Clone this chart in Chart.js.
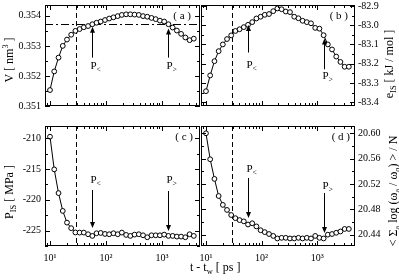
<!DOCTYPE html>
<html>
<head>
<meta charset="utf-8">
<script src="https://cdn.jsdelivr.net/npm/chart.js@4.4.0/dist/chart.umd.min.js"></script>
<style>
    html, body { margin: 0; padding: 0; background: #fff; }
    #wrap { position: relative; width: 399px; height: 280px; }
    #wrap canvas { position: absolute; left: 0; top: 0; }
</style>
</head>
<body>
<div id="wrap">
    <canvas id="pa" width="399" height="280"></canvas>
    <canvas id="pb" width="399" height="280"></canvas>
    <canvas id="pc" width="399" height="280"></canvas>
    <canvas id="pd" width="399" height="280"></canvas>
</div>
<script>
(function () {
    'use strict';

    // t - t_w [ps]
    var times = [10, 11.9, 14.2, 16.9, 20.1, 23.9, 28.4, 33.8, 40.2, 47.9, 57.0, 67.8,
        80.6, 96.0, 114, 136, 162, 192, 229, 272, 324, 386, 459, 546, 650, 773, 920,
        1095, 1303, 1551, 1845, 2196, 2613, 3110, 3701];

    // (a) V [nm^3]
    var volume = [0.35153, 0.35215, 0.35261, 0.35300, 0.35321, 0.35337, 0.35350, 0.35356,
        0.35362, 0.35366, 0.35372, 0.35377, 0.35381, 0.35386, 0.35391, 0.35395, 0.35399,
        0.35403, 0.35405, 0.35405, 0.35404, 0.35403, 0.35399, 0.35397, 0.35393, 0.35389,
        0.35384, 0.35381, 0.35372, 0.35361, 0.35351, 0.35340, 0.35328, 0.35319, 0.35324];

    // (b) e_IS [kJ/mol]
    var energy = [-83.343, -83.261, -83.187, -83.135, -83.100, -83.072, -83.053, -83.030,
        -83.021, -83.010, -82.998, -82.984, -82.965, -82.956, -82.946, -82.942, -82.927,
        -82.913, -82.917, -82.929, -82.932, -82.956, -82.964, -82.977, -82.984, -82.990,
        -83.014, -83.018, -83.052, -83.100, -83.126, -83.163, -83.191, -83.216, -83.216];

    // (c) P_IS [MPa]
    var pressure = [-209.74, -215.05, -218.9, -221.8, -223.7, -224.6, -225.3, -225.32,
        -225.32, -225.59, -225.86, -225.43, -225.38, -225.54, -225.59, -225.43, -225.59,
        -225.32, -225.70, -225.86, -225.65, -225.59, -225.76, -226.08, -225.76, -225.76,
        -225.76, -225.65, -225.86, -225.86, -225.97, -225.97, -226.08, -225.59, -225.86];

    // (d) < sum_a log(w_a / w_o) > / N
    var logOmega = [20.600, 20.559, 20.528, 20.501, 20.487, 20.479, 20.471, 20.466, 20.463,
        20.461, 20.456, 20.458, 20.453, 20.447, 20.444, 20.441, 20.438, 20.434, 20.435,
        20.435, 20.434, 20.434, 20.435, 20.434, 20.435, 20.434, 20.438, 20.435, 20.434,
        20.440, 20.441, 20.443, 20.445, 20.449, 20.449];

    // 刻度
    var xMajor = [10, 100, 1000];
    var xMajorLabels = ['10\u00b9', '10\u00b2', '10\u00b3'];
    var xMinor = [9, 20, 30, 40, 50, 60, 70, 80, 90, 200, 300, 400, 500, 600, 700, 800, 900,
        2000, 3000, 4000];

    var volTicks = [0.351, 0.352, 0.353, 0.354];
    var volMinor = [0.3515, 0.3525, 0.3535];
    var energyTicks = [-83.4, -83.3, -83.2, -83.1, -83.0, -82.9];
    var energyMinor = [-83.35, -83.25, -83.15, -83.05, -82.95];
    var pressureTicks = [-225, -220, -215, -210];
    var pressureMinor = [-227.5, -222.5, -217.5, -212.5];
    var omegaTicks = [20.44, 20.48, 20.52, 20.56, 20.60];
    var omegaMinor = [20.46, 20.50, 20.54, 20.58];

    var X_MIN = 8.14, X_MAX = 4775;
    var T_CUT = 29;        // 竖直虚线
    var V_PLATEAU = 0.35373; // (a) 中的点划线

    var SERIF = "'Liberation Serif', 'Times New Roman', serif";
    Chart.defaults.font.family = SERIF;
    Chart.defaults.color = '#000';

    function font(size) { return size + 'px ' + SERIF; }

    // 带上下标的文字：parts = [[text, 'sub'|'sup'|undefined], ...]
    function drawRich(ctx, parts, x, y, size, rotate, align) {
        ctx.save();
        ctx.translate(x, y);
        if (rotate) ctx.rotate(-Math.PI / 2);
        ctx.textBaseline = 'middle';
        ctx.textAlign = 'left';
        var w = 0, i;
        for (i = 0; i < parts.length; i++) {
            ctx.font = font(parts[i][1] ? size * 0.7 : size);
            w += ctx.measureText(parts[i][0]).width;
        }
        var cx = align === 'left' ? 0 : -w / 2;
        for (i = 0; i < parts.length; i++) {
            var p = parts[i];
            var s = p[1] ? size * 0.7 : size;
            var dy = p[1] === 'sub' ? size * 0.32 : (p[1] === 'sup' ? -size * 0.38 : 0);
            ctx.font = font(s);
            ctx.fillText(p[0], cx, dy);
            cx += ctx.measureText(p[0]).width;
        }
        ctx.restore();
    }

    function drawArrow(ctx, x, y0, y1) {
        var dir = y1 > y0 ? 1 : -1;
        ctx.beginPath();
        ctx.moveTo(x, y0);
        ctx.lineTo(x, y1 - dir * 5);
        ctx.stroke();
        ctx.beginPath();
        ctx.moveTo(x, y1);
        ctx.lineTo(x - 2.5, y1 - dir * 6);
        ctx.lineTo(x + 2.5, y1 - dir * 6);
        ctx.closePath();
        ctx.fill();
    }

    function decorPlugin(p) {
        return {
            id: 'decor',
            beforeDatasetsDraw: function (chart) {
                var ctx = chart.ctx, a = chart.chartArea;
                var xs = chart.scales.x, ys = chart.scales.y;
                ctx.save();
                ctx.strokeStyle = '#000';
                ctx.lineWidth = 1;
                ctx.setLineDash([5, 3]);
                var vx = Math.round(xs.getPixelForValue(T_CUT)) + 0.5;
                ctx.beginPath();
                ctx.moveTo(vx, a.top);
                ctx.lineTo(vx, a.bottom);
                ctx.stroke();
                if (p.hLine != null) {
                    ctx.setLineDash([8, 3, 2, 3]);
                    var hy = Math.round(ys.getPixelForValue(p.hLine)) + 0.5;
                    ctx.beginPath();
                    ctx.moveTo(a.left, hy);
                    ctx.lineTo(a.right, hy);
                    ctx.stroke();
                }
                ctx.restore();
            },
            afterDatasetsDraw: function (chart) {
                var ctx = chart.ctx, a = chart.chartArea;
                var xs = chart.scales.x, ys = chart.scales.y;
                ctx.save();
                ctx.strokeStyle = '#000';
                ctx.fillStyle = '#000';
                ctx.lineWidth = 1;

                // 边框
                ctx.strokeRect(a.left + 0.5, a.top + 0.5, a.right - a.left - 1, a.bottom - a.top - 1);

                // 向内的刻度线（四边）
                ctx.beginPath();
                function xTick(v, len) {
                    var px = Math.round(xs.getPixelForValue(v)) + 0.5;
                    ctx.moveTo(px, a.top); ctx.lineTo(px, a.top + len);
                    ctx.moveTo(px, a.bottom); ctx.lineTo(px, a.bottom - len);
                }
                function yTick(v, len) {
                    var py = Math.round(ys.getPixelForValue(v)) + 0.5;
                    ctx.moveTo(a.left, py); ctx.lineTo(a.left + len, py);
                    ctx.moveTo(a.right, py); ctx.lineTo(a.right - len, py);
                }
                xMajor.forEach(function (v) { xTick(v, 5); });
                xMinor.forEach(function (v) { xTick(v, 3); });
                p.yTicks.forEach(function (v) { yTick(v, 5); });
                p.yMinor.forEach(function (v) { yTick(v, 3); });
                ctx.stroke();

                // 箭头 P< / P>
                p.arrows.forEach(function (ar) {
                    var ax = Math.round(xs.getPixelForValue(ar.t)) + 0.5;
                    drawArrow(ctx, ax, ys.getPixelForValue(ar.from), ys.getPixelForValue(ar.to));
                    drawRich(ctx, [['P'], [ar.sub, 'sub']], ax - 2, ys.getPixelForValue(ar.labelY), 11, false, 'left');
                });

                // 面板标签
                ctx.font = font(11);
                ctx.textAlign = 'right';
                ctx.textBaseline = 'middle';
                ctx.fillText(p.tag, a.right - p.tagInset, a.top + 11);

                // 轴标题
                drawRich(ctx, p.title, p.titleX, p.titleY, 12, true, 'center');
                if (p.xTitle) {
                    drawRich(ctx, [['t - t'], ['w', 'sub'], [' [ ps ]']], 190, 268, 12, false, 'left');
                }
                ctx.restore();
            }
        };
    }

    function makePanel(id, values, p) {
        var pts = [];
        for (var i = 0; i < times.length; i++) {
            pts.push({ x: times[i], y: values[i] });
        }
        function noPad(s) {
            s.paddingLeft = 0; s.paddingRight = 0; s.paddingTop = 0; s.paddingBottom = 0;
        }
        return new Chart(document.getElementById(id), {
            type: 'line',
            data: {
                datasets: [{
                    data: pts,
                    borderColor: '#000',
                    borderWidth: 1,
                    pointRadius: 2.4,
                    pointBorderWidth: 1,
                    pointBorderColor: '#000',
                    pointBackgroundColor: '#fff',
                    tension: 0,
                    fill: false
                }]
            },
            options: {
                responsive: false,
                animation: false,
                devicePixelRatio: 1,
                events: [],
                layout: { padding: p.padding },
                plugins: { legend: { display: false }, tooltip: { enabled: false } },
                scales: {
                    x: {
                        type: 'logarithmic',
                        position: 'bottom',
                        min: X_MIN,
                        max: X_MAX,
                        display: p.showX,
                        grid: { display: false, drawTicks: false },
                        border: { display: false },
                        ticks: {
                            autoSkip: false,
                            maxRotation: 0,
                            minRotation: 0,
                            padding: 6,
                            font: { size: 10 },
                            callback: function (v) {
                                var k = xMajor.indexOf(v);
                                return k >= 0 ? xMajorLabels[k] : '';
                            }
                        },
                        afterBuildTicks: function (s) {
                            s.ticks = xMajor.map(function (v) { return { value: v }; });
                        },
                        afterFit: function (s) { s.height = 20; noPad(s); }
                    },
                    y: {
                        type: 'linear',
                        position: p.side,
                        min: p.yMin,
                        max: p.yMax,
                        grid: { display: false, drawTicks: false },
                        border: { display: false },
                        ticks: {
                            autoSkip: false,
                            padding: p.side === 'left' ? 4 : 3,
                            font: { size: 10 },
                            callback: function (v) { return v.toFixed(p.decimals); }
                        },
                        afterBuildTicks: function (s) {
                            s.ticks = p.yTicks.map(function (v) { return { value: v }; });
                        },
                        afterFit: function (s) { s.width = p.axisWidth; noPad(s); }
                    }
                }
            },
            plugins: [decorPlugin(p)]
        });
    }

    makePanel('pa', volume, {
        side: 'left', yMin: 0.351, yMax: 0.35436, decimals: 3,
        yTicks: volTicks, yMinor: volMinor,
        padding: { left: 0, top: 5, right: 199, bottom: 154 }, axisWidth: 45, showX: false,
        hLine: V_PLATEAU,
        tag: '( a )', tagInset: 9,
        title: [['V [ nm'], ['3', 'sup'], [' ]']], titleX: 10, titleY: 60,
        arrows: [
            { t: 57, from: 0.35261, to: 0.35364, labelY: 0.35233, sub: '<' },
            { t: 1303, from: 0.35261, to: 0.35358, labelY: 0.35233, sub: '>' }
        ]
    });

    makePanel('pb', energy, {
        side: 'right', yMin: -83.42, yMax: -82.895, decimals: 1,
        yTicks: energyTicks, yMinor: energyMinor,
        padding: { left: 201, top: 5, right: 0, bottom: 154 }, axisWidth: 44, showX: false,
        hLine: null,
        tag: '( b )', tagInset: 7,
        title: [['e'], ['IS', 'sub'], [' [ kJ / mol ]']], titleX: 390, titleY: 64,
        arrows: [
            { t: 57, from: -83.142, to: -82.999, labelY: -83.207, sub: '<' },
            { t: 1303, from: -83.229, to: -83.069, labelY: -83.264, sub: '>' }
        ]
    });

    makePanel('pc', pressure, {
        side: 'left', yMin: -227.5, yMax: -208, decimals: 0,
        yTicks: pressureTicks, yMinor: pressureMinor,
        padding: { left: 0, top: 126, right: 199, bottom: 14 }, axisWidth: 45, showX: true,
        hLine: null,
        tag: '( c )', tagInset: 7,
        title: [['P'], ['IS', 'sub'], [' [ MPa ]']], titleX: 10, titleY: 192,
        xTitle: true,
        arrows: [
            { t: 57, from: -218.40, to: -224.57, labelY: -216.77, sub: '<' },
            { t: 1303, from: -218.56, to: -225.06, labelY: -216.77, sub: '>' }
        ]
    });

    makePanel('pd', logOmega, {
        side: 'right', yMin: 20.4221, yMax: 20.6115, decimals: 2,
        yTicks: omegaTicks, yMinor: omegaMinor,
        padding: { left: 201, top: 126, right: 0, bottom: 14 }, axisWidth: 44, showX: true,
        hLine: null,
        tag: '( d )', tagInset: 5,
        title: [['< \u03a3'], ['a', 'sub'], [' log (\u03c9'], ['a', 'sub'], [' / \u03c9'], ['o', 'sub'], [') > / N']],
        titleX: 394, titleY: 191,
        arrows: [
            { t: 57, from: 20.5294, to: 20.4663, labelY: 20.5436, sub: '<' },
            { t: 1303, from: 20.5058, to: 20.4426, labelY: 20.5168, sub: '>' }
        ]
    });
})();
</script>
</body>
</html>
